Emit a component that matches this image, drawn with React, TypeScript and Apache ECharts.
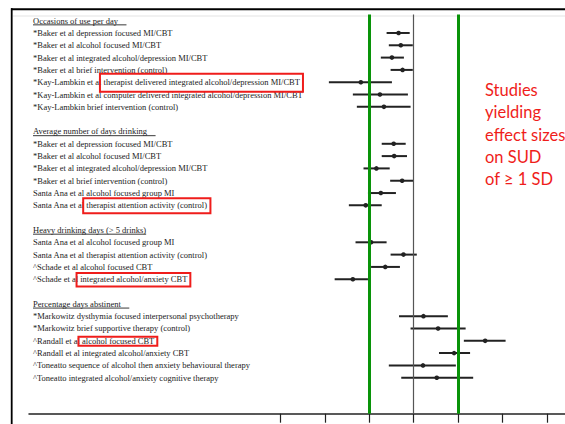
import React, { useEffect, useRef } from "react";
import * as echarts from "echarts";

// ---------- data ----------
const sectionTitles = [
  "Occasions of use per day    ",
  "Average number of days drinking    ",
  "Heavy drinking days (> 5 drinks)",
  "Percentage days abstinent    ",
];

const occasionsLabels = [
  "*Baker et al depression focused MI/CBT",
  "*Baker et al alcohol focused MI/CBT",
  "*Baker et al integrated alcohol/depression MI/CBT",
  "*Baker et al brief intervention (control)",
  "*Kay-Lambkin et al therapist delivered integrated alcohol/depression MI/CBT",
  "*Kay-Lambkin et al computer delivered integrated alcohol/depression MI/CBT",
  "*Kay-Lambkin brief intervention (control)",
];
const occasionsEst = [-0.34, -0.29, -0.49, -0.25, -1.19, -0.76, -0.67];
const occasionsLo = [-0.61, -0.56, -0.74, -0.52, -1.91, -1.37, -1.28];
const occasionsHi = [-0.09, -0.02, -0.22, -0.02, -0.49, -0.13, -0.07];

const daysLabels = [
  "*Baker et al depression focused MI/CBT",
  "*Baker et al alcohol focused MI/CBT",
  "*Baker et al integrated alcohol/depression MI/CBT",
  "*Baker et al brief intervention (control)",
  "Santa Ana et al alcohol focused group MI",
  "Santa Ana et al therapist attention activity (control)",
];
const daysEst = [-0.45, -0.44, -0.84, -0.26, -0.74, -1.08];
const daysLo = [-0.72, -0.72, -1.13, -0.53, -1.03, -1.46];
const daysHi = [-0.18, -0.15, -0.54, -0.01, -0.4, -0.72];

const heavyLabels = [
  "Santa Ana et al alcohol focused group MI",
  "Santa Ana et al therapist attention activity (control)",
  "^Schade et al alcohol focused CBT",
  "^Schade et al integrated alcohol/anxiety CBT",
];
const heavyEst = [-0.96, -0.23, -0.64, -1.37];
const heavyLo = [-1.31, -0.52, -0.96, -1.78];
const heavyHi = [-0.61, 0.07, -0.31, -1.03];

const abstinentLabels = [
  "*Markowitz dysthymia focused interpersonal psychotherapy",
  "*Markowitz brief supportive therapy (control)",
  "^Randall et al alcohol focused CBT",
  "^Randall et al integrated alcohol/anxiety CBT",
  "^Toneatto sequence of alcohol then anxiety behavioural therapy",
  "^Toneatto integrated alcohol/anxiety cognitive therapy",
];
const abstinentEst = [0.22, 0.55, 1.61, 0.91, 0.21, 0.52];
const abstinentLo = [-0.33, -0.07, 1.13, 0.57, -0.56, -0.28];
const abstinentHi = [0.77, 1.17, 2.07, 1.27, 0.95, 1.34];

const xTicks = [-3, -2, -1, 0, 1, 2, 3];
const zeroValue = 0;
const sdThresholds = [-1, 1];

// highlighted phrases: [section, item, phrase]
const highlightSection = [0, 1, 2, 3];
const highlightItem = [4, 5, 3, 2];
const highlightPhrase = [
  "therapist delivered integrated alcohol/depression MI/CBT",
  "therapist attention activity (control)",
  "integrated alcohol/anxiety CBT",
  "alcohol focused CBT",
];

const annotationLines = ["Studies", "yielding", "effect sizes", "on SUD", "of \u2265 1 SD"];

// ---------- styles / layout ----------
const W = 565;
const H = 424;
const X_MIN = -8.664;
const X_MAX = 3.408;
const Y_MIN = -0.5;
const Y_MAX = 31.92;
const LABEL_FONT = "Liberation Serif";
const LABEL_SIZE = 8.5;
const LABEL_PAD = 4;
const BOX_HEIGHTS = [18, 15, 13.5, 9];
const RED = "#ef1d1b";
const GREEN = "#099309";
const INK = "#222";

export default function App() {
  const ref = useRef<HTMLDivElement>(null);

  useEffect(() => {
    if (!ref.current) return;
    const sections = [
      { labels: occasionsLabels, est: occasionsEst, lo: occasionsLo, hi: occasionsHi },
      { labels: daysLabels, est: daysEst, lo: daysLo, hi: daysHi },
      { labels: heavyLabels, est: heavyEst, lo: heavyLo, hi: heavyHi },
      { labels: abstinentLabels, est: abstinentEst, lo: abstinentLo, hi: abstinentHi },
    ];

    const canvas = document.createElement("canvas");
    const ctx = canvas.getContext("2d")!;
    ctx.font = `${LABEL_SIZE}px "${LABEL_FONT}"`;
    const measure = (s: string) => ctx.measureText(s).width;

    const rowLabels: string[] = [];
    const ciData: number[][] = [];
    const underlineData: number[][] = [];
    const boxData: number[][] = [];
    const itemRow: number[][] = [];

    sections.forEach((sec, si) => {
      if (si > 0) rowLabels.push("");
      const hr = rowLabels.length;
      rowLabels.push(sectionTitles[si]);
      underlineData.push([X_MIN, hr, measure(sectionTitles[si])]);
      itemRow.push([]);
      sec.labels.forEach((lab, i) => {
        const r = rowLabels.length;
        itemRow[si].push(r);
        rowLabels.push(lab);
        ciData.push([sec.est[i], sec.lo[i], sec.hi[i], r]);
      });
    });

    highlightPhrase.forEach((ph, k) => {
      const si = highlightSection[k];
      const ii = highlightItem[k];
      const full = sections[si].labels[ii];
      const idx = full.indexOf(ph);
      const prefix = full.slice(0, idx).trimEnd();
      const x0 = measure(prefix) - 1.5;
      const x1 = measure(full) + 3;
      boxData.push([X_MIN, itemRow[si][ii], x0, x1, BOX_HEIGHTS[k]]);
    });

    const chart = echarts.init(ref.current, null, { renderer: "svg", width: W, height: H });

    chart.setOption({
      animation: false,
      grid: { left: 29, right: 0, top: 14.5, bottom: H - 413.7 },
      xAxis: {
        type: "value",
        position: "bottom",
        min: X_MIN,
        max: X_MAX,
        axisLine: { show: true, onZero: false, lineStyle: { color: INK, width: 1.5 } },
        axisTick: { show: true, customValues: xTicks, length: 9, lineStyle: { color: INK, width: 1.2 } },
        axisLabel: { show: false },
        splitLine: { show: false },
      },
      yAxis: {
        type: "value",
        inverse: true,
        min: Y_MIN,
        max: Y_MAX,
        axisLine: { show: false, onZero: false },
        axisTick: { show: false },
        splitLine: { show: false },
        axisLabel: {
          show: true,
          inside: true,
          margin: LABEL_PAD,
          customValues: rowLabels.map((_, i) => i),
          formatter: (v: number) => rowLabels[Math.round(v)] ?? "",
          fontFamily: LABEL_FONT,
          fontSize: LABEL_SIZE,
          color: INK,
          align: "left",
        },
      },
      series: [
        {
          type: "custom",
          name: "ci",
          z: 3,
          encode: { x: [0, 1, 2], y: 3 },
          data: ciData,
          renderItem: (_p: any, api: any) => {
            const r = api.value(3);
            const a = api.coord([api.value(1), r]);
            const b = api.coord([api.value(2), r]);
            const c = api.coord([api.value(0), r]);
            return {
              type: "group",
              children: [
                { type: "line", shape: { x1: a[0], y1: a[1], x2: b[0], y2: b[1] }, style: { stroke: INK, lineWidth: 2 } },
                { type: "circle", shape: { cx: c[0], cy: c[1], r: 2.3 }, style: { fill: INK } },
              ],
            };
          },
        },
        {
          type: "custom",
          name: "underline",
          z: 3,
          encode: { x: 0, y: 1 },
          data: underlineData,
          renderItem: (_p: any, api: any) => {
            const p = api.coord([api.value(0), api.value(1)]);
            const x1 = p[0] + LABEL_PAD;
            const y = p[1] + 4.2;
            return {
              type: "line",
              shape: { x1, y1: y, x2: x1 + api.value(2), y2: y },
              style: { stroke: INK, lineWidth: 0.9 },
            };
          },
        },
        {
          type: "custom",
          name: "boxes",
          z: 5,
          encode: { x: 0, y: 1 },
          data: boxData,
          renderItem: (_p: any, api: any) => {
            const p = api.coord([api.value(0), api.value(1)]);
            const x0 = p[0] + LABEL_PAD + api.value(2);
            const x1 = p[0] + LABEL_PAD + api.value(3);
            const h = api.value(4);
            return {
              type: "rect",
              shape: { x: x0, y: p[1] + 0.5 - h / 2, width: x1 - x0, height: h },
              style: { stroke: RED, fill: "none", lineWidth: 2 },
            };
          },
        },
        {
          type: "line",
          name: "refs",
          z: 4,
          data: [],
          markLine: {
            silent: true,
            symbol: ["none", "none"],
            label: { show: false },
            data: [
              { xAxis: zeroValue, lineStyle: { color: "#555", width: 1.2, type: "solid" } },
              ...sdThresholds.map((v) => ({ xAxis: v, lineStyle: { color: GREEN, width: 3, type: "solid" } })),
            ],
          },
        },
      ],
      graphic: [
        { type: "line", shape: { x1: 11, y1: 9.3, x2: W, y2: 9.3 }, style: { stroke: "#000", lineWidth: 2 } },
        { type: "line", shape: { x1: 11.7, y1: 8.3, x2: 11.7, y2: H }, style: { stroke: "#000", lineWidth: 1.8 } },
        { type: "line", shape: { x1: 13, y1: 16, x2: W, y2: 16 }, style: { stroke: "#ececec", lineWidth: 1.5 } },
        {
          type: "text",
          left: 485,
          top: 79,
          style: {
            text: annotationLines.join("\n"),
            fill: RED,
            fontFamily: "Lato",
            fontSize: 16.5,
            lineHeight: 22.3,
          },
        },
      ],
    });

    return () => chart.dispose();
  }, []);

  return (
    <div
      ref={ref}
      style={{ position: "fixed", left: 0, top: 0, width: W, height: H, background: "#fff" }}
    />
  );
}
